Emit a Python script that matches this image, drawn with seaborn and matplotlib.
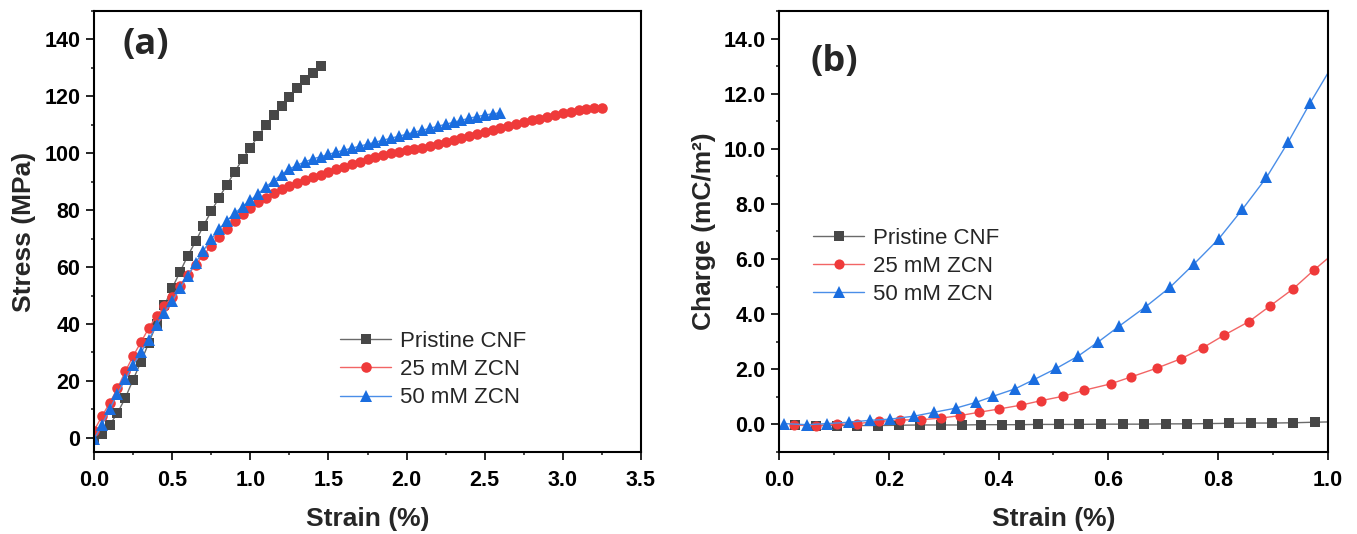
import numpy as np
import pandas as pd
import seaborn as sns
import matplotlib
matplotlib.use("Agg")
import matplotlib.pyplot as plt
from matplotlib.ticker import MultipleLocator, FormatStrFormatter

# ---- (a) stress-strain ----
strain_a = [0.00, 0.05, 0.10, 0.15, 0.20, 0.25, 0.30, 0.35, 0.40, 0.45,
            0.50, 0.55, 0.60, 0.65, 0.70, 0.75, 0.80, 0.85, 0.90, 0.95,
            1.00, 1.05, 1.10, 1.15, 1.20, 1.25, 1.30, 1.35, 1.40, 1.45,
            1.50, 1.55, 1.60, 1.65, 1.70, 1.75, 1.80, 1.85, 1.90, 1.95,
            2.00, 2.05, 2.10, 2.15, 2.20, 2.25, 2.30, 2.35, 2.40, 2.45,
            2.50, 2.55, 2.60, 2.65, 2.70, 2.75, 2.80, 2.85, 2.90, 2.95,
            3.00, 3.05, 3.10, 3.15, 3.20, 3.25]
stress_cnf = [0.0, 1.2, 4.5, 8.7, 14.0, 20.4, 26.7, 33.3, 40.0, 46.5,
              52.6, 58.3, 64.0, 69.0, 74.5, 79.6, 84.4, 88.9, 93.5, 97.9,
              102.0, 106.0, 110.0, 113.3, 116.7, 119.9, 122.9, 125.7, 128.3, 130.7]
stress_25 = [2.5, 7.5, 12.2, 17.4, 23.3, 28.7, 33.6, 38.5, 42.8, 46.2,
             49.6, 53.5, 57.2, 60.8, 64.2, 67.5, 70.6, 73.5, 76.2, 78.6,
             80.8, 82.7, 84.4, 85.9, 87.3, 88.5, 89.6, 90.6, 91.6, 92.5,
             93.4, 94.3, 95.2, 96.1, 97.0, 97.9, 98.7, 99.4, 100.0, 100.5,
             101.0, 101.5, 102.0, 102.6, 103.2, 103.9, 104.6, 105.3, 106.0, 106.7,
             107.4, 108.1, 108.8, 109.5, 110.2, 110.9, 111.6, 112.2, 112.8, 113.4,
             114.0, 114.6, 115.1, 115.5, 115.8, 116.0]
stress_50 = [-0.5, 4.5, 10.0, 15.5, 20.5, 25.5, 30.0, 34.5, 39.5, 44.0,
             48.0, 52.5, 57.0, 61.5, 65.8, 69.8, 73.3, 76.3, 78.9, 81.2,
             83.4, 85.8, 88.2, 90.4, 92.5, 94.5, 95.8, 97.0, 98.0, 98.8,
             99.6, 100.4, 101.1, 101.8, 102.5, 103.2, 103.9, 104.6, 105.3, 106.0,
             106.7, 107.4, 108.1, 108.8, 109.5, 110.2, 110.9, 111.6, 112.3, 112.9,
             113.4, 113.9, 114.2]

# ---- (b) charge-strain (last point of each list = end of line, no symbol) ----
strain_b_cnf = [0.029, 0.068, 0.105, 0.142, 0.180, 0.218, 0.257, 0.296, 0.334, 0.368,
                0.406, 0.439, 0.471, 0.510, 0.546, 0.587, 0.626, 0.665, 0.705, 0.743,
                0.782, 0.820, 0.860, 0.898, 0.937, 0.976, 1.000]
charge_cnf = [-0.03, -0.04, -0.04, -0.04, -0.04, -0.03, -0.02, -0.02, -0.02, -0.01,
              -0.01, -0.01, 0.00, 0.00, 0.00, 0.01, 0.01, 0.01, 0.02, 0.02,
              0.03, 0.04, 0.05, 0.05, 0.06, 0.08, 0.09]
strain_b_25 = [0.028, 0.067, 0.106, 0.142, 0.182, 0.220, 0.259, 0.295, 0.330, 0.364,
               0.401, 0.441, 0.477, 0.517, 0.556, 0.604, 0.641, 0.688, 0.732, 0.772,
               0.811, 0.856, 0.894, 0.936, 0.975, 1.000]
charge_25 = [-0.03, -0.04, 0.00, 0.03, 0.11, 0.16, 0.17, 0.23, 0.32, 0.44,
             0.56, 0.70, 0.86, 1.02, 1.24, 1.47, 1.72, 2.04, 2.38, 2.78,
             3.24, 3.73, 4.29, 4.91, 5.61, 6.03]
strain_b_50 = [0.009, 0.051, 0.087, 0.128, 0.166, 0.202, 0.246, 0.282, 0.322, 0.359,
               0.390, 0.430, 0.465, 0.505, 0.545, 0.582, 0.620, 0.668, 0.712, 0.756,
               0.801, 0.844, 0.888, 0.928, 0.968, 1.000]
charge_50 = [0.03, -0.01, 0.03, 0.08, 0.15, 0.19, 0.30, 0.44, 0.59, 0.80,
             1.02, 1.29, 1.63, 2.03, 2.48, 3.00, 3.57, 4.27, 4.97, 5.82,
             6.73, 7.80, 8.96, 10.26, 11.68, 12.75]

labels = ["Pristine CNF", "25 mM ZCN", "50 mM ZCN"]
mk_colors = ["#474747", "#ef3a3a", "#1a6ddf"]
ln_colors = ["#6a6a6a", "#f26565", "#4a8ee8"]
markers = ["s", "o", "^"]

sns.set_theme(style="ticks")
plt.rcParams["font.family"] = ["Liberation Sans", "DejaVu Sans"]
plt.rcParams["axes.linewidth"] = 1.5

fig = plt.figure(figsize=(13.57, 5.34), dpi=100)
ax1 = fig.add_axes([0.0693, 0.1536, 0.4031, 0.8258])
ax2 = fig.add_axes([0.5740, 0.1536, 0.4046, 0.8258])

series_a = [stress_cnf, stress_25, stress_50]
msize_a = [7.0, 7.6, 8.2]
for ys, lab, mc, lc, m, ms in zip(series_a, labels, mk_colors, ln_colors, markers, msize_a):
    df = pd.DataFrame({"strain": strain_a[:len(ys)], "stress": ys})
    sns.lineplot(data=df, x="strain", y="stress", ax=ax1, color=lc, lw=1.0,
                 marker=m, markersize=ms, markerfacecolor=mc, markeredgecolor=mc,
                 markeredgewidth=0, label=lab)

series_b = [(strain_b_cnf, charge_cnf), (strain_b_25, charge_25), (strain_b_50, charge_50)]
msize_b = [6.5, 7.3, 8.4]
for (xs, ys), lab, mc, lc, m, ms in zip(series_b, labels, mk_colors, ln_colors, markers, msize_b):
    df = pd.DataFrame({"strain": xs, "charge": ys})
    sns.lineplot(data=df, x="strain", y="charge", ax=ax2, color=lc, lw=1.0,
                 marker=m, markersize=ms, markerfacecolor=mc, markeredgecolor=mc,
                 markeredgewidth=0, markevery=list(range(len(xs) - 1)), label=lab)

ax1.set_xlim(0, 3.5)
ax1.set_ylim(-5, 150)
ax1.xaxis.set_major_locator(MultipleLocator(0.5))
ax1.xaxis.set_minor_locator(MultipleLocator(0.25))
ax1.set_yticks([0, 20, 40, 60, 80, 100, 120, 140])
ax1.yaxis.set_minor_locator(MultipleLocator(10))
ax1.xaxis.set_major_formatter(FormatStrFormatter("%.1f"))

ax2.set_xlim(0, 1.0)
ax2.set_ylim(-1, 15)
ax2.xaxis.set_major_locator(MultipleLocator(0.2))
ax2.xaxis.set_minor_locator(MultipleLocator(0.1))
ax2.set_yticks([0, 2, 4, 6, 8, 10, 12, 14])
ax2.yaxis.set_minor_locator(MultipleLocator(1))
ax2.xaxis.set_major_formatter(FormatStrFormatter("%.1f"))
ax2.yaxis.set_major_formatter(FormatStrFormatter("%.1f"))

for ax in (ax1, ax2):
    for sp in ax.spines.values():
        sp.set_visible(True)
        sp.set_linewidth(1.5)
        sp.set_color("black")
    ax.tick_params(which="major", direction="out", length=5.8, width=1.2,
                   labelsize=15.5, colors="black", top=False, right=False)
    ax.tick_params(which="minor", direction="out", length=2.5, width=1.2,
                   top=False, right=False)
    ax.tick_params(axis="x", which="major", pad=7)
    ax.tick_params(axis="y", which="major", pad=4)
    for t in ax.get_xticklabels() + ax.get_yticklabels():
        t.set_fontweight("bold")
    ax.set_xlabel("Strain (%)", fontsize=19, fontweight="bold", labelpad=12)

ax1.set_ylabel("Stress (MPa)", fontsize=19, fontweight="bold", labelpad=6)
ax2.set_ylabel("Charge (mC/m²)", fontsize=19, fontweight="bold", labelpad=5)

ax1.text(0.095, 0.923, "(a)", transform=ax1.transAxes, ha="center", va="center",
         fontsize=26, fontweight="bold", family=["Open Sans", "DejaVu Sans"])
ax2.text(0.100, 0.884, "(b)", transform=ax2.transAxes, ha="center", va="center",
         fontsize=26, fontweight="bold", family=["Open Sans", "DejaVu Sans"])

leg_kw = dict(frameon=False, loc="upper left", borderpad=0, borderaxespad=0,
              handlelength=2.3, handletextpad=0.4, labelspacing=0.32,
              prop={"size": 16, "family": ["Liberation Sans", "DejaVu Sans"]})
ax1.legend(bbox_to_anchor=(0.45, 0.274), **leg_kw)
ax2.legend(bbox_to_anchor=(0.062, 0.509), **leg_kw)

fig.savefig("out.png", dpi=100)
